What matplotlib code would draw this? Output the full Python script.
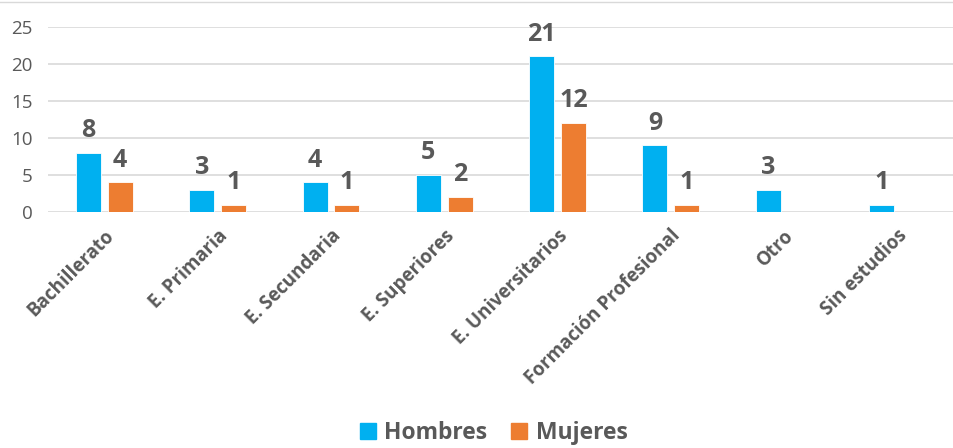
import numpy as np
import matplotlib
matplotlib.use("Agg")
import matplotlib.pyplot as plt
from matplotlib.lines import Line2D

categories = ["Bachillerato", "E. Primaria", "E. Secundaria", "E. Superiores",
              "E. Universitarios", "Formación Profesional", "Otro", "Sin estudios"]
hombres = [8, 3, 4, 5, 21, 9, 3, 1]
mujeres = [4, 1, 1, 2, 12, 1, 0, 0]

blue = "#00B0F0"
orange = "#ED7D31"
grey = "#595959"

plt.rcParams['font.family'] = ['Open Sans', 'DejaVu Sans']

fig = plt.figure(figsize=(9.54, 4.48), dpi=100)
ax = fig.add_axes([0.050, 0.527, 0.950, 0.413])

x = np.arange(len(categories))
w = 0.22
off = 0.14
b1 = ax.bar(x - off, hombres, w, color=blue, edgecolor="white", linewidth=0.6, label="Hombres", zorder=3)
b2 = ax.bar(x + off, mujeres, w, color=orange, edgecolor="white", linewidth=0.6, label="Mujeres", zorder=3)

# value labels, skip the empty bars
for bars, vals in ((b1, hombres), (b2, mujeres)):
    for r, v in zip(bars, vals):
        if v == 0:
            continue
        ax.annotate(str(v), (r.get_x() + r.get_width() / 2, v), xytext=(0, 7),
                    textcoords="offset points", ha="center", va="bottom",
                    fontsize=18, fontweight="bold", color=grey)

ax.set_xlim(-0.5, len(categories) - 0.5)
ax.set_ylim(0, 25)
ax.set_yticks([0, 5, 10, 15, 20, 25])
ax.yaxis.grid(True, color="#D9D9D9", linewidth=1.2, zorder=0)
ax.set_axisbelow(True)
for s in ax.spines.values():
    s.set_visible(False)
ax.tick_params(axis="both", length=0)
ax.tick_params(axis="y", labelsize=13.5, labelcolor=grey, pad=11)
ax.set_xticks(x)
ax.set_xticklabels(categories, rotation=45, ha="right", rotation_mode="anchor",
                   fontsize=13.5, fontweight="bold", color=grey)
ax.tick_params(axis="x", pad=10)

handles = [Line2D([], [], marker="s", linestyle="none", markersize=11, color=blue),
           Line2D([], [], marker="s", linestyle="none", markersize=11, color=orange)]
fig.legend(handles, ["Hombres", "Mujeres"], loc="center", bbox_to_anchor=(0.517, 0.034),
           ncol=2, frameon=False, handlelength=0.8, handletextpad=0.3, columnspacing=1.0,
           prop={"size": 16.5, "weight": "bold"}, labelcolor=grey)

fig.add_artist(Line2D([0, 1], [0.995, 0.995], transform=fig.transFigure, color="#D9D9D9", linewidth=1))

fig.savefig("out.png", dpi=100)
